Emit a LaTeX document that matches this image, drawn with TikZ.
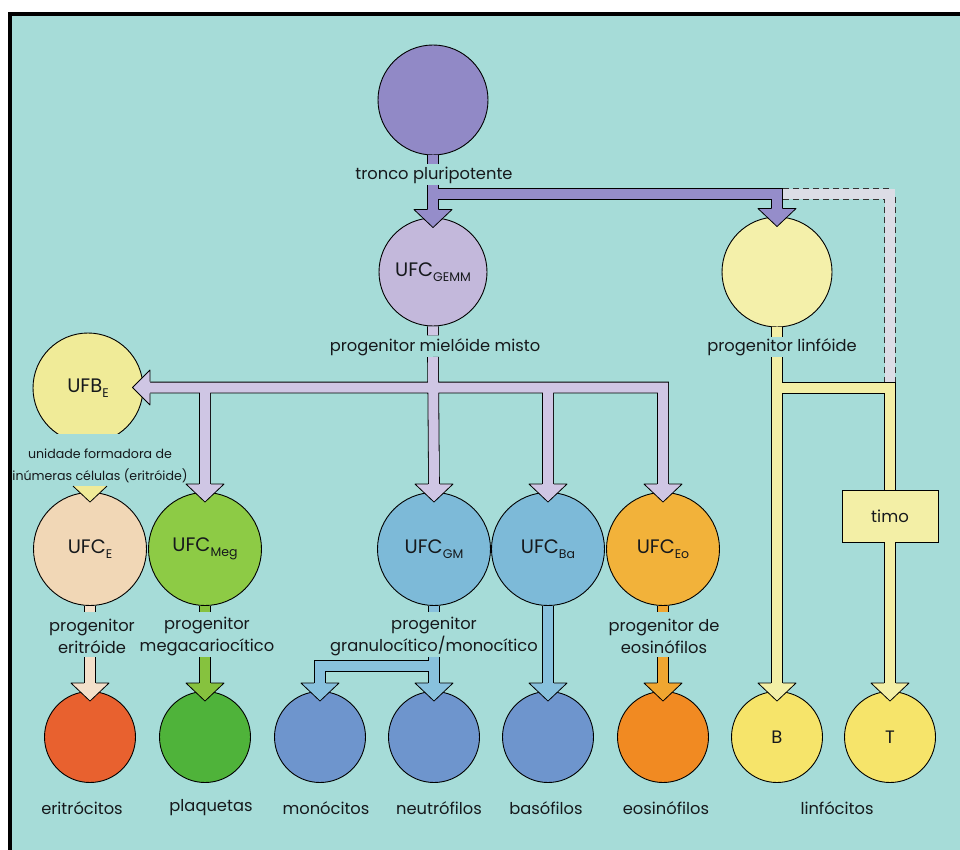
\documentclass[tikz,border=0pt]{standalone}
\usepackage{fontspec}
\setmainfont{Poppins}
\usetikzlibrary{calc}
\definecolor{bgc}{HTML}{A6DCD8}
\definecolor{tronc}{HTML}{9189C6}
\definecolor{purp}{HTML}{958DCA}
\definecolor{gemmc}{HTML}{C3B8DB}
\definecolor{lav}{HTML}{CFC6E4}
\definecolor{lymc}{HTML}{F4F0AA}
\definecolor{ylw}{HTML}{F3EFA6}
\definecolor{ufbc}{HTML}{F0EB98}
\definecolor{ufcec}{HTML}{F1D7B6}
\definecolor{peach}{HTML}{F3E0CA}
\definecolor{megc}{HTML}{8DCB45}
\definecolor{grn}{HTML}{86C23E}
\definecolor{gmc}{HTML}{7DBAD8}
\definecolor{lblue}{HTML}{88C1DD}
\definecolor{eoc}{HTML}{F2B23A}
\definecolor{orng}{HTML}{F0A630}
\definecolor{eritc}{HTML}{E8612F}
\definecolor{plaqc}{HTML}{4FB33A}
\definecolor{bluec}{HTML}{6E95CD}
\definecolor{eosc}{HTML}{F18A22}
\definecolor{lyc}{HTML}{F6E46A}
\definecolor{pale}{HTML}{DCDDE6}
\definecolor{txt}{HTML}{16191C}
\newcommand\sbs[1]{\raisebox{-0.45ex}{\fontsize{12.5}{12.5}\selectfont #1}}
% two-pass shaft: outline then fill
\newcommand\tree[2]{\draw[shO] #2; \draw[shF, draw=#1] #2;}
% downward arrow head on top of node #1
\newcommand\headd[2]{%
  \fill[#2] ($(#1.north)+(-19,-8)$) -- ($(#1.north)+(0,10)$) -- ($(#1.north)+(19,-8)$) -- cycle;
  \draw[hdo] ($(#1.north)+(-5.8,-8)$) -- ($(#1.north)+(-19,-8)$) -- ($(#1.north)+(0,10)$) -- ($(#1.north)+(19,-8)$) -- ($(#1.north)+(5.8,-8)$);}
\begin{document}
\begin{tikzpicture}[x=1pt,y=-1pt,
  cell/.style={circle, draw=black, line width=0.9pt, inner sep=0pt, text=txt,
    font=\fontsize{19.5}{22}\selectfont},
  shO/.style={line width=11.6pt, draw=black, line cap=butt, line join=miter},
  shF/.style={line width=10pt, line cap=butt, line join=miter},
  hdo/.style={draw=black, line width=0.8pt, line join=round},
  lbl/.style={font=\fontsize{16.3}{22}\selectfont, align=center, text=txt, inner sep=0pt},
  small/.style={font=\fontsize{12.6}{22}\selectfont, align=center, text=txt, inner sep=0pt},
  dsh/.style={line width=11.6pt, draw=black!80, dash pattern=on 6pt off 4pt, line cap=butt, line join=miter},
  ]
\useasboundingbox (0,0) rectangle (960,850);
\fill[white] (0,0) rectangle (960,850);
\fill[bgc] (10,14) rectangle (960,850);
\draw[line width=4pt] (10,850) -- (10,14) -- (960,14);

% ---- cells ----
\node[cell, fill=tronc, minimum size=110] (tronco) at (433,100) {};
\node[cell, fill=gemmc, minimum size=108] (gemm) at (433,272) {UFC\sbs{GEMM}};
\node[cell, fill=lymc, minimum size=110] (lymph) at (777,272) {};
\begin{scope}
  \clip (0,0) rectangle (960,433);
  \node[cell, fill=ufbc, minimum size=110] (ufb) at (88,388) {UFB\sbs{E}};
\end{scope}
\node[cell, fill=ufcec, minimum size=113] (ufce) at (90,549) {UFC\sbs{E}};
\node[cell, fill=megc, minimum size=113] (ufcmeg) at (205,549) {UFC\sbs{Meg}};
\node[cell, fill=gmc, minimum size=113] (ufcgm) at (434,549) {UFC\sbs{GM}};
\node[cell, fill=gmc, minimum size=113] (ufcba) at (548,549) {UFC\sbs{Ba}};
\node[cell, fill=eoc, minimum size=113] (ufceo) at (663,549) {UFC\sbs{Eo}};

\node[cell, fill=eritc, minimum size=91] (erit) at (90,737) {};
\node[cell, fill=plaqc, minimum size=91] (plaq) at (205,737) {};
\node[cell, fill=bluec, minimum size=91] (mono) at (320,737) {};
\node[cell, fill=bluec, minimum size=91] (neut) at (434,737) {};
\node[cell, fill=bluec, minimum size=91] (baso) at (548,737) {};
\node[cell, fill=eosc, minimum size=91] (eos) at (663,737) {};
\node[cell, fill=lyc, minimum size=91, font=\fontsize{18}{20}\selectfont] (B) at (777,737) {B};
\node[cell, fill=lyc, minimum size=91, font=\fontsize{18}{20}\selectfont] (T) at (890,737) {T};

\node[draw=black, line width=0.9pt, fill=ylw, minimum width=96, minimum height=52,
  inner sep=0pt, text=txt, font=\fontsize{16.5}{18}\selectfont] (timo) at (890,516) {timo};

% ---- labels ----
\node[lbl] (ltronco) at (434,175) {tronco pluripotente};
\node[lbl] (lgemm) at (435,347) {progenitor mielóide misto};
\node[lbl] (llymph) at (782,347) {progenitor linfóide};
\node[small] (lufb) at (100,466) {unidade formadora de\\inúmeras células (eritróide)};
\node[lbl] (lufce) at (92,636) {progenitor\\eritróide};
\node[lbl] (lmeg) at (207,636) {progenitor\\megacariocítico};
\node[lbl] (lgm) at (434,636) {progenitor\\granulocítico/monocítico};
\node[lbl] (leo) at (664,636) {progenitor de\\eosinófilos};
\node[lbl] (lerit) at (82,808) {eritrócitos};
\node[lbl] (lplaq) at (211,808) {plaquetas};
\node[lbl] (lmono) at (326,808) {monócitos};
\node[lbl] (lneut) at (439,808) {neutrófilos};
\node[lbl] (lbaso) at (546,808) {basófilos};
\node[lbl] (leos) at (666,808) {eosinófilos};
\node[lbl] (llinf) at (837,808) {linfócitos};

% ---- junction coordinates ----
\coordinate (tA) at (433,185);
\coordinate (tB) at (433,194);
\coordinate (tC) at (777,194);
\coordinate (dA) at (783,194);
\coordinate (dB) at (890,194);
\coordinate (dC) at (890,383);
\coordinate (mA) at (433,357);
\coordinate (mB) at (150,387.5);
\coordinate (mC) at (663,387.5);
\coordinate (mMeg) at (205,387.5);
\coordinate (mBa) at (548,387.5);
\coordinate (yA) at (777,357);
\coordinate (yB) at (777,388);
\coordinate (yC) at (890,388);
\coordinate (eA) at (90,657);
\coordinate (gA) at (205,657);
\coordinate (bA) at (434,657);
\coordinate (bB) at (434,666);
\coordinate (bC) at (320,666);
\coordinate (oA) at (663,657);

% ---- dashed channel ----
\draw[dsh] (dA) -- (dB) -- (dC);
\draw[shF, draw=pale] (dA) -- (dB) -- (dC);

% ---- purple ----
\tree{purp}{(tronco.south) -- ++(0,9) (tA) -- ($(gemm.north)+(0,-8)$) (tB) -- (tC) -- ($(lymph.north)+(0,-8)$)}
\headd{gemm}{purp}
\headd{lymph}{purp}

% ---- yellow lymphoid ----
\tree{ylw}{(lymph.south) -- ++(0,10) (yA) -- ($(B.north)+(0,-8)$) (yB) -- (yC) -- (timo.north) (timo.south) -- ($(T.north)+(0,-8)$)}
\headd{B}{ylw}
\headd{T}{ylw}

% ---- lavender myeloid ----
\tree{lav}{(gemm.south) -- ++(0,9) (mA) -- ($(ufcgm.north)+(0,-8)$) (mB) -- (mC) -- ($(ufceo.north)+(0,-8)$) (mMeg) -- ($(ufcmeg.north)+(0,-8)$) (mBa) -- ($(ufcba.north)+(0,-8)$)}
\headd{ufcmeg}{lav}
\headd{ufcgm}{lav}
\headd{ufcba}{lav}
\headd{ufceo}{lav}
\fill[lav] (mB) ++(0,-17.5) -- ($(ufb.east)+(-11,-0.5)$) -- ($(mB)+(0,17.5)$) -- cycle;
\draw[hdo] ($(mB)+(0,-5.8)$) -- ($(mB)+(0,-17.5)$) -- ($(ufb.east)+(-11,-0.5)$) -- ($(mB)+(0,17.5)$) -- ($(mB)+(0,5.8)$);

% ---- UFB -> UFC_E ----
\fill[ufbc] ($(ufce.north)+(-17,-6)$) -- ($(ufce.north)+(0,10)$) -- ($(ufce.north)+(17,-6)$) -- cycle;
\draw[hdo] ($(ufce.north)+(-17,-6)$) -- ($(ufce.north)+(0,10)$) -- ($(ufce.north)+(17,-6)$);

% ---- level 2 to mature ----
\tree{peach}{(ufce.south) -- ++(0,6) (eA) -- ($(erit.north)+(0,-8)$)}
\headd{erit}{peach}
\tree{grn}{(ufcmeg.south) -- ++(0,6) (gA) -- ($(plaq.north)+(0,-8)$)}
\headd{plaq}{grn}
\tree{lblue}{(ufcgm.south) -- ++(0,6) (bA) -- ($(neut.north)+(0,-8)$) (bB) -- (bC) -- ($(mono.north)+(0,-8)$)}
\headd{neut}{lblue}
\headd{mono}{lblue}
\tree{lblue}{(ufcba.south) -- ($(baso.north)+(0,-8)$)}
\headd{baso}{lblue}
\tree{orng}{(ufceo.south) -- ++(0,6) (oA) -- ($(eos.north)+(0,-8)$)}
\headd{eos}{orng}
\end{tikzpicture}
\end{document}
